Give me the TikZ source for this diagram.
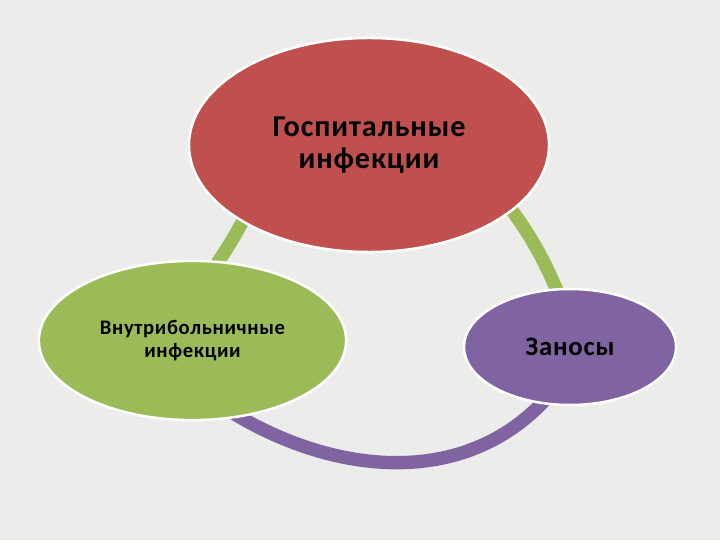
\documentclass[tikz,border=0pt]{standalone}
\usepackage{fontspec}
\setmainfont{Carlito}
\newfontfamily\labelfont[LetterSpace=3]{Carlito}
\usetikzlibrary{shapes.geometric}

\definecolor{bgcol}{RGB}{236,236,234}
\definecolor{redcol}{RGB}{192,80,77}
\definecolor{greencol}{RGB}{155,187,89}
\definecolor{purplecol}{RGB}{128,100,162}

\tikzset{
  bubble/.style={ellipse, draw=white, line width=1.8pt, align=center, text=black},
  ring/.style={line width=9.5pt}
}

\begin{document}
\begin{tikzpicture}[x=0.025cm, y=0.025cm]
  \def\W{720};
  \def\H{540};
  \def\Xr{369};
  \def\Yr{397};
  \def\Xg{192.5};
  \def\Yg{199.5};
  \def\Xp{570};
  \def\Yp{193};

	% background
	\fill[bgcol] (0,0) rectangle (\W,\H);
	\useasboundingbox (0,0) rectangle (\W,\H);

	% ends of the rings
	\coordinate (rg) at (\Xr - 116, \Yr - 57);
	\coordinate (gr) at (\Xg + 14.5, \Yg + 62.5);
	\coordinate (rp) at (\Xr + 129, \Yr - 49);
	\coordinate (pr) at (\Xp - 7, \Yp + 42);
	\coordinate (gp) at (\Xg + 35.5, \Yg - 69.5);
	\coordinate (pg) at (\Xp - 18, \Yp - 45);

	% rings
	\draw[ring, greencol] (rg) to[out=-115, in=55] (gr);
	\draw[ring, greencol] (rp) to[out=-52, in=112] (pr);
	\draw[ring, purplecol] (gp) to[out=-32, in=230] (pg);

	% ellipses
	\node[bubble, fill=redcol, minimum width=9cm, minimum height=5.35cm,
	  font=\labelfont\fontsize{21.5}{23}\selectfont\bfseries] (hosp) at (\Xr, \Yr - 2)
	  {Госпитальные\\инфекции};
	\node[bubble, fill=greencol, minimum width=7.68cm, minimum height=3.98cm,
	  font=\labelfont\fontsize{14.7}{17}\selectfont\bfseries] (vnutr) at (\Xg, \Yg)
	  {Внутрибольничные\\инфекции};
	\node[bubble, fill=purplecol, minimum width=5.3cm, minimum height=2.9cm,
	  font=\labelfont\fontsize{19}{21}\selectfont\bfseries] (zanos) at (\Xp, \Yp)
	  {Заносы};
\end{tikzpicture}
\end{document}
